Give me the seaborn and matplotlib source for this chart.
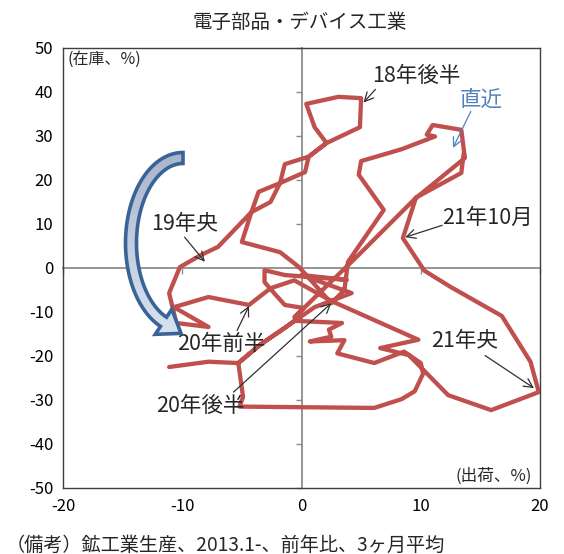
import numpy as np
import pandas as pd
import matplotlib
matplotlib.use("Agg")
import matplotlib.pyplot as plt
from matplotlib.patches import Polygon
from matplotlib.colors import LinearSegmentedColormap
import seaborn as sns

# ---- data (shipments YoY %, inventory YoY %) ----
shipments = [-11.1, -7.8, -5.3, -4.9, -5.2, 6.1, 8.4, 9.5, 10.2, 10.0, 8.6,
             6.1, 3.0, 3.6, 0.7, 2.5, 2.3, 3.4, -0.6, -1.4, -3.4, -5.3, -3.4, -1.4,
             1.1, 4.2, 0.0, 3.8, -1.4, -3.1, -3.1, -2.3, -1.4, 0.2, -0.6,
             4.8, 9.5, 13.7, 13.4, 11.0, 10.5, 11.2, 8.4, 5.0, 4.8, 6.9, 3.9, 3.6, 2.5,
             -0.2, -1.8, -5.0, -4.2, -2.6, -1.8, -1.4, 0.6, 2.1, 1.1, 0.4, 3.1, 5.0,
             4.9, 2.1, 0.6, 0.3, -1.8, -3.6, -4.2, -7.0, -8.4, -10.2, -11.1, -10.5,
             -7.8, -10.7, -7.8, -4.4, -2.6, -0.6, 2.5, 9.8, 6.6, 9.0, 12.3, 15.9,
             19.9, 19.2, 16.8, 12.5, 10.3, 8.5, 9.6, 13.4, 13.6]
inventory = [-22.5, -21.3, -21.6, -29.3, -31.5, -31.8, -29.8, -28.0, -24.0, -21.6, -19.0,
             -21.6, -19.4, -16.4, -16.7, -15.6, -14.0, -12.5, -12.0, -13.6, -17.3, -21.6, -17.3, -13.6,
             -8.9, -5.7, -1.6, -2.7, -1.6, -0.5, -3.2, -5.7, -8.4, -9.1, -11.2,
             3.0, 15.7, 25.0, 31.4, 32.5, 30.3, 29.9, 27.0, 24.3, 21.2, 13.2, 1.4, -5.0, -8.0,
             0.2, 3.6, 5.9, 12.7, 15.0, 19.3, 23.6, 25.3, 28.4, 32.0, 37.3, 38.9, 38.6,
             32.0, 28.4, 25.3, 21.8, 19.3, 17.3, 12.7, 4.8, 3.0, 0.2, -5.7, -12.5,
             -13.4, -8.9, -6.6, -8.4, -4.6, -2.8, -7.5, -16.3, -18.2, -19.8, -28.9, -32.3,
             -28.2, -21.3, -10.9, -4.3, -0.6, 6.8, 16.0, 21.6, 26.0]

x_ticks = [-20, -10, 0, 10, 20]
y_ticks = [-50, -40, -30, -20, -10, 0, 10, 20, 30, 40, 50]

df = pd.DataFrame({"出荷": shipments, "在庫": inventory})

sns.set_theme(style="white")
plt.rcParams["font.family"] = ["Noto Sans CJK JP", "DejaVu Sans"]
plt.rcParams["axes.unicode_minus"] = False

W, H = 564, 554
fig = plt.figure(figsize=(W / 100, H / 100), dpi=100)
pos = [63 / W, 1 - 488 / H, (540 - 63) / W, (488 - 48) / H]

# back axes: zero axes with small ticks
axb = fig.add_axes(pos)
axb.set_xlim(-20, 20)
axb.set_ylim(-50, 50)
axb.set_facecolor("white")
for s in ["top", "right"]:
    axb.spines[s].set_visible(False)
axb.spines["left"].set_position(("data", 0))
axb.spines["bottom"].set_position(("data", 0))
for s in ["left", "bottom"]:
    axb.spines[s].set_color("#8c8c8c")
    axb.spines[s].set_linewidth(1.3)
axb.set_xticks(x_ticks)
axb.set_yticks(y_ticks)
axb.set_xticklabels([])
axb.set_yticklabels([])
axb.tick_params(axis="both", direction="out", length=4, width=1, color="#8c8c8c",
                bottom=True, left=True)

# front axes: frame, labels, data
ax = fig.add_axes(pos)
ax.patch.set_alpha(0)
sns.lineplot(data=df, x="出荷", y="在庫", sort=False, estimator=None, ax=ax,
             color="#C0504D", linewidth=3.1, solid_joinstyle="round",
             solid_capstyle="round", zorder=3)
ax.set_xticks(x_ticks)
ax.set_yticks(y_ticks)
ax.set_xticklabels([str(v) for v in x_ticks])
ax.set_yticklabels([str(v) for v in y_ticks])
ax.tick_params(axis="both", length=0, labelsize=12, colors="black", pad=7)
ax.set_xlabel("")
ax.set_ylabel("")
for s in ax.spines.values():
    s.set_visible(True)
    s.set_color("#3f3f3f")
    s.set_linewidth(1.0)

# axis unit labels
ax.text(-19.6, 47.5, "(在庫、%)", fontsize=11.5, ha="left", va="center")
ax.text(19.3, -47.3, "(出荷、%)", fontsize=12, ha="right", va="center")

# ---- blue curved block arrow (decoration, built in figure pixels) ----
cx, cy, rx, ry = 183.0, 243.0, 52.0, 85.0
th = np.radians(np.linspace(90, 248, 80))
px = cx + rx * np.cos(th)
py = cy - ry * np.sin(th)
tx = -rx * np.sin(th)
ty = -ry * np.cos(th)
tn = np.hypot(tx, ty)
tx, ty = tx / tn, ty / tn
nx, ny = -ty, tx
hw_body, hw_head, head_len = 5.5, 15.0, 21.0
side_a = np.column_stack([px + nx * hw_body, py + ny * hw_body])
side_b = np.column_stack([px - nx * hw_body, py - ny * hw_body])
bx, by = px[-1], py[-1]
head = np.array([
    [bx + nx[-1] * hw_head, by + ny[-1] * hw_head],
    [bx + tx[-1] * head_len, by + ty[-1] * head_len],
    [bx - nx[-1] * hw_head, by - ny[-1] * hw_head],
])
outline = np.vstack([side_a, head, side_b[::-1]])
outline_fig = np.column_stack([outline[:, 0] / W, 1 - outline[:, 1] / H])
arrow_poly = Polygon(outline_fig, closed=True, transform=fig.transFigure,
                     facecolor="none", edgecolor="#3A6496", linewidth=2.6,
                     joinstyle="miter", zorder=5)
fill_poly = Polygon(outline_fig, closed=True, transform=fig.transFigure,
                    facecolor="none", edgecolor="none")
ax.add_patch(fill_poly)
grad_cmap = LinearSegmentedColormap.from_list("g", ["#A7B3C8", "#C4CFE0", "#DCE6F5"])
grad = np.linspace(0, 1, 64).reshape(-1, 1)
img = ax.imshow(grad, cmap=grad_cmap, aspect="auto", origin="upper",
                extent=[(110 - 300) / 11.925, (215 - 300) / 11.925,
                        (268 - 355) / 4.4, (268 - 145) / 4.4], zorder=4)
img.set_clip_path(fill_poly)
ax.add_patch(arrow_poly)
ax.set_xlim(-20, 20)
ax.set_ylim(-50, 50)

# annotations
label_fs = 15.5
arrow_kw = dict(arrowstyle="->", color="#303030", lw=0.9, shrinkA=0, shrinkB=0,
                mutation_scale=16)
ax.text(9.6, 43.6, "18年後半", fontsize=label_fs, ha="center", va="center")
ax.annotate("", xy=(5.2, 37.6), xytext=(6.2, 40.6), arrowprops=arrow_kw)

ax.text(15.1, 38.2, "直近", fontsize=label_fs, ha="center", va="center", color="#4F81BD")
ax.annotate("", xy=(12.7, 27.3), xytext=(14.2, 35.6),
            arrowprops=dict(arrow_kw, color="#4F81BD"))

ax.text(15.6, 11.4, "21年10月", fontsize=label_fs, ha="center", va="center")
ax.annotate("", xy=(8.7, 7.0), xytext=(11.8, 9.7), arrowprops=arrow_kw)

ax.text(-9.8, 10.0, "19年央", fontsize=label_fs, ha="center", va="center")
ax.annotate("", xy=(-8.1, 1.4), xytext=(-9.8, 7.0), arrowprops=arrow_kw)

ax.text(-6.7, -17.3, "20年前半", fontsize=label_fs, ha="center", va="center")
ax.annotate("", xy=(-4.4, -8.6), xytext=(-5.4, -14.2), arrowprops=arrow_kw)

ax.text(-8.5, -31.4, "20年後半", fontsize=label_fs, ha="center", va="center")
ax.annotate("", xy=(2.5, -8.0), xytext=(-5.7, -28.2), arrowprops=arrow_kw)

ax.text(13.7, -16.6, "21年央", fontsize=label_fs, ha="center", va="center")
ax.annotate("", xy=(19.5, -27.3), xytext=(15.4, -19.9), arrowprops=arrow_kw)

# title and note
fig.text(300 / W, 1 - 22 / H, "電子部品・デバイス工業", fontsize=14, ha="center", va="center")
fig.text(6 / W, 1 - 545 / H, "（備考）鉱工業生産、2013.1-、前年比、3ヶ月平均",
         fontsize=13.8, ha="left", va="center")

fig.savefig("out.png", dpi=100)
